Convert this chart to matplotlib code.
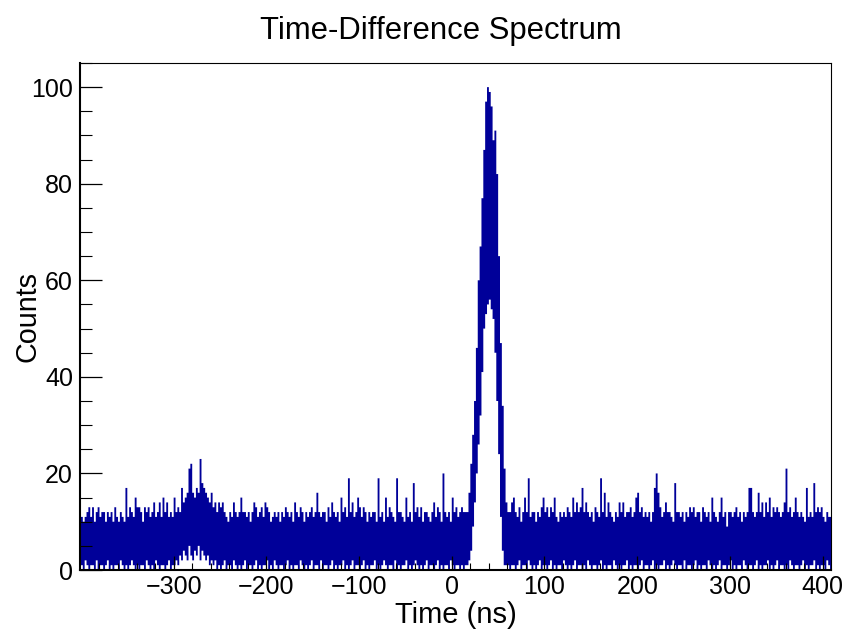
import numpy as np
import matplotlib
matplotlib.use("Agg")
import matplotlib.pyplot as plt
from matplotlib.ticker import MultipleLocator, FixedLocator

plt.rcParams['font.family'] = ['Liberation Sans', 'DejaVu Sans']

# 2 ns bins from -400 to 410 ns; each bin: highest and lowest count seen in that slice
bin_edges = np.arange(-400, 412, 2)

# upper envelope of the counts, by region
hi_a = [11, 10, 11, 12, 13, 11, 13, 10, 12, 13, 11, 12, 12, 10, 12, 11, 12, 10, 13, 11,
        10, 12, 11, 10, 17, 11, 13, 12, 11, 15, 13, 13, 12, 10, 13, 12, 13, 11, 12, 14,
        11, 12, 14, 11, 15, 12, 14, 11, 12, 11]
hi_b = [15, 12, 13, 12, 17, 14, 15, 16, 21, 22, 16, 15, 17, 16, 23, 18, 17, 16, 15, 14,
        16, 13, 14, 12, 14]
hi_c = [13, 14, 12, 11, 10, 12, 11, 14, 12, 11, 12, 15, 12, 12, 11, 12, 10, 12, 14, 13,
        11, 12, 13, 11, 14, 13, 12, 10, 11, 12, 11, 12, 10, 12, 11, 13, 12, 11, 12, 10,
        14, 12, 11, 13, 12, 10, 12, 11, 12, 13, 11, 12, 16, 12, 11, 12, 12, 10, 13, 11,
        14, 12, 11, 12, 10, 15, 12, 13, 11, 19, 12, 14, 11, 12, 15]
hi_d = [13, 11, 13, 12, 10, 12, 11, 12, 12, 10, 19, 11, 12, 10, 15, 11, 13, 12, 11, 10,
        19, 12, 12, 11, 10, 15, 11, 12, 10, 18, 12, 13, 11, 13, 10, 12, 12, 11, 10, 12,
        14, 11, 13, 12, 10, 20, 12, 11, 12, 10, 15, 12, 13, 11, 12, 13, 12]
peak_hi = [12, 12, 16, 22, 28, 35, 46, 60, 67, 77, 87, 97, 100, 99, 96, 89, 91, 82, 65, 47,
           34, 21, 14, 12, 12, 14]
hi_e = [15, 12, 11, 13, 10, 12, 15, 12, 19, 11, 12, 12, 10, 12, 11, 13, 15, 12, 13, 11,
        13, 12, 15, 11, 10, 12, 11, 12, 11, 13, 12, 11, 15, 12, 14, 12, 13, 17, 12, 14,
        12, 11, 12, 10, 13, 12, 11, 19, 12, 16, 11, 14, 12, 11, 10, 12, 11, 14, 12, 14,
        11, 12, 12, 13, 11, 12, 15]
hi_f = [16, 12, 13, 11, 12, 11, 12, 10, 12, 17, 20, 16, 13, 11, 12, 14, 12, 12, 11, 10,
        18, 12, 12, 11, 12, 10, 12, 11, 13, 12, 13, 11, 12, 12, 10, 13, 12, 11, 12, 10,
        15, 12, 11, 10, 12, 15, 11, 12, 9, 12, 12, 11, 12, 13, 11, 12, 10, 12, 11, 12,
        17, 17, 12, 11, 12, 16, 12, 14, 11, 14, 12, 15, 11, 13, 12, 13, 12, 11, 12, 14,
        21, 12, 13, 11, 12, 15, 12, 11, 12, 11, 10, 17, 11, 12, 11, 18, 12, 13, 12, 13,
        11, 10, 12, 11, 11]

# lower envelope of the counts, same regions
lo_a = [1, 0, 2, 1, 0, 1, 1, 0, 2, 0, 1, 1, 0, 1, 2, 0, 1, 0, 1, 1,
        0, 2, 1, 0, 1, 0, 1, 2, 1, 0, 1, 0, 1, 1, 0, 2, 1, 0, 1, 0,
        2, 1, 0, 1, 1, 0, 1, 2, 0, 1]
lo_b = [1, 2, 1, 3, 2, 4, 3, 2, 5, 3, 2, 4, 3, 5, 2, 4, 3, 2, 3, 1,
        2, 1, 2, 0, 1]
lo_c = [0, 1, 2, 0, 1, 1, 0, 2, 1, 0, 1, 0, 1, 2, 0, 1, 1, 0, 1, 2,
        0, 1, 0, 1, 1, 2, 0, 1, 0, 2, 1, 0, 1, 1, 0, 1, 2, 0, 1, 0,
        1, 1, 0, 2, 1, 0, 1, 0, 1, 2, 0, 1, 1, 0, 2, 0, 1, 1, 0, 1,
        2, 0, 1, 0, 1, 1, 2, 0, 1, 0, 1, 2, 0, 1, 1]
lo_d = [0, 1, 2, 0, 1, 0, 1, 1, 2, 0, 1, 0, 1, 2, 1, 0, 1, 1, 0, 2,
        0, 1, 0, 1, 1, 2, 0, 1, 0, 1, 2, 1, 0, 1, 0, 1, 2, 0, 1, 1,
        0, 1, 2, 0, 1, 0, 1, 1, 0, 2, 1, 0, 1, 1, 0, 1, 0]
peak_lo = [1, 1, 2, 4, 9, 14, 20, 26, 32, 41, 50, 53, 55, 56, 54, 52, 45, 35, 24, 11,
           4, 1, 1, 1, 0, 1]
lo_e = [1, 0, 1, 2, 0, 1, 1, 0, 2, 1, 0, 1, 0, 1, 2, 0, 1, 1, 0, 1,
        2, 0, 1, 0, 1, 1, 0, 2, 1, 0, 1, 0, 1, 2, 0, 1, 1, 0, 1, 0,
        2, 1, 0, 1, 1, 0, 1, 2, 0, 1, 0, 1, 1, 0, 2, 1, 0, 1, 0, 1,
        1, 2, 0, 1, 0, 1, 1]
lo_f = [0, 1, 2, 0, 1, 1, 0, 1, 2, 0, 1, 0, 1, 1, 2, 0, 1, 0, 1, 2,
        1, 0, 1, 1, 0, 2, 0, 1, 1, 0, 1, 2, 0, 1, 0, 1, 1, 0, 2, 1,
        0, 1, 0, 1, 2, 0, 1, 1, 0, 1, 2, 0, 1, 0, 1, 1, 0, 2, 1, 0,
        1, 1, 0, 1, 2, 0, 1, 0, 1, 1, 2, 0, 1, 0, 1, 2, 0, 1, 1, 0,
        1, 0, 2, 1, 0, 1, 1, 0, 1, 2, 0, 1, 0, 1, 1, 2, 0, 1, 0, 1,
        1, 0, 2, 1, 0]

counts_hi = np.array(hi_a + hi_b + hi_c + hi_d + peak_hi + hi_e + hi_f)
counts_lo = np.array(lo_a + lo_b + lo_c + lo_d + peak_lo + lo_e + lo_f)

x_major = [-300, -200, -100, 0, 100, 200, 300, 400]

fig = plt.figure(figsize=(8.45, 6.3), dpi=100)
ax = fig.add_axes([0.0947, 0.0952, 0.8887, 0.8048])

ax.stairs(counts_hi, bin_edges, baseline=counts_lo, fill=True,
          color='#000099', linewidth=0)

ax.set_xlim(-401, 409)
ax.set_ylim(0, 105)

ax.xaxis.set_major_locator(FixedLocator(x_major))
ax.xaxis.set_minor_locator(FixedLocator([v for v in range(-380, 409, 20) if v % 100 != 0]))
ax.yaxis.set_major_locator(MultipleLocator(20))
ax.yaxis.set_minor_locator(MultipleLocator(5))

ax.tick_params(axis='x', which='major', direction='in', length=10, width=0.9,
               labelsize=18, pad=3.5, top=False)
ax.tick_params(axis='x', which='minor', direction='in', length=5, width=0.8, top=False)
ax.tick_params(axis='y', which='major', direction='in', length=16, width=0.9,
               labelsize=18, pad=5, right=False)
ax.tick_params(axis='y', which='minor', direction='in', length=8.5, width=0.8, right=False)

for side in ['left', 'bottom']:
    ax.spines[side].set_linewidth(1.5)
for side in ['top', 'right']:
    ax.spines[side].set_linewidth(0.8)

fig.text(0.522, 0.95, 'Time-Difference Spectrum', ha='center', va='center', fontsize=22.3)
fig.text(0.54, 0.024, 'Time (ns)', ha='center', va='center', fontsize=21)
fig.text(0.033, 0.498, 'Counts', ha='center', va='center', rotation=90, fontsize=20.7)

fig.savefig('out.png', dpi=100)
